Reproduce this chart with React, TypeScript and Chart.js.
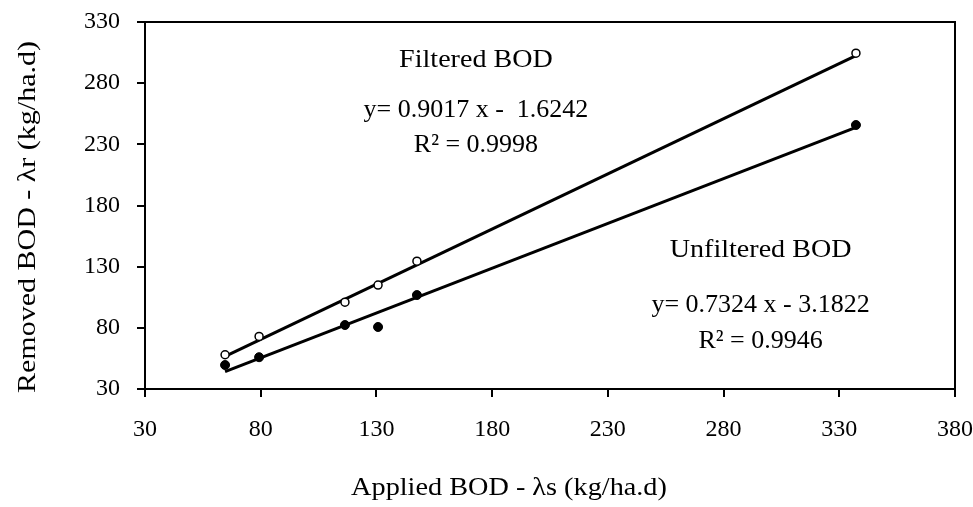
import React, { useEffect, useRef } from "react";
import { Chart, registerables } from "chart.js";

Chart.register(...registerables);

// ---- Data ----
const APPLIED_BOD = [64.6, 79.3, 116.4, 130.7, 147.5, 337.2];
const FILTERED_REMOVED = [58, 73, 101, 115, 134.5, 304.5];
const UNFILTERED_REMOVED = [49.6, 56, 82.3, 80.7, 106.8, 245.8];

const FILTERED_SLOPE = 0.9017;
const FILTERED_INTERCEPT = -1.6242;
const UNFILTERED_SLOPE = 0.7324;
const UNFILTERED_INTERCEPT = -3.1822;

const X_MIN = 30;
const X_MAX = 380;
const Y_MIN = 30;
const Y_MAX = 330;
const TICK_STEP = 50;

const X_TITLE = "Applied BOD - λs (kg/ha.d)";
const Y_TITLE = "Removed BOD - λr (kg/ha.d)";

const FILTERED_LABELS = ["Filtered BOD", "y= 0.9017 x -  1.6242", "R² = 0.9998"];
const UNFILTERED_LABELS = ["Unfiltered BOD", "y= 0.7324 x - 3.1822", "R² = 0.9946"];
// label anchor positions in data units (x centre, baselines)
const FILTERED_LABEL_X = 173;
const FILTERED_LABEL_Y = [293.5, 252.6, 224];
const UNFILTERED_LABEL_X = 296;
const UNFILTERED_LABEL_Y = [137.7, 93.2, 63.3];

const FONT = "'Liberation Serif', 'Times New Roman', serif";

function trend(slope: number, intercept: number) {
  const xs = [Math.min(...APPLIED_BOD), Math.max(...APPLIED_BOD)];
  return xs.map((x) => ({ x, y: slope * x + intercept }));
}

const overlayPlugin = {
  id: "overlay",
  afterDraw(chart: any) {
    const { ctx, chartArea, scales } = chart;
    ctx.save();
    // frame
    ctx.strokeStyle = "#000";
    ctx.lineWidth = 2;
    ctx.strokeRect(chartArea.left, chartArea.top, chartArea.right - chartArea.left, chartArea.bottom - chartArea.top);

    ctx.fillStyle = "#000";
    ctx.textAlign = "center";
    ctx.textBaseline = "alphabetic";
    const drawStretched = (t: string, x: number, y: number, s: number) => {
      ctx.save();
      ctx.translate(x, y);
      ctx.scale(s, 1);
      ctx.fillText(t, 0, 0);
      ctx.restore();
    };
    ctx.font = `26px ${FONT}`;
    FILTERED_LABELS.forEach((t, i) => {
      drawStretched(t, scales.x.getPixelForValue(FILTERED_LABEL_X), scales.y.getPixelForValue(FILTERED_LABEL_Y[i]), i === 0 ? 1.08 : 1);
    });
    UNFILTERED_LABELS.forEach((t, i) => {
      drawStretched(t, scales.x.getPixelForValue(UNFILTERED_LABEL_X), scales.y.getPixelForValue(UNFILTERED_LABEL_Y[i]), i === 0 ? 1.08 : 1);
    });

    // axis titles
    ctx.font = `25px ${FONT}`;
    drawStretched(X_TITLE, 509, 495, 1.13);

    ctx.save();
    ctx.translate(35, 217);
    ctx.rotate(-Math.PI / 2);
    ctx.scale(1.2, 1);
    ctx.fillText(Y_TITLE, 0, 0);
    ctx.restore();

    ctx.restore();
  },
};

export default function App() {
  const ref = useRef<HTMLCanvasElement | null>(null);

  useEffect(() => {
    if (!ref.current) return;
    const chart = new Chart(ref.current, {
      type: "scatter",
      data: {
        datasets: [
          {
            label: "Filtered BOD",
            data: APPLIED_BOD.map((x, i) => ({ x, y: FILTERED_REMOVED[i] })),
            pointStyle: "circle",
            pointRadius: 4,
            pointBackgroundColor: "#fff",
            pointBorderColor: "#000",
            pointBorderWidth: 1.5,
            showLine: false,
          },
          {
            label: "Unfiltered BOD",
            data: APPLIED_BOD.map((x, i) => ({ x, y: UNFILTERED_REMOVED[i] })),
            pointStyle: "circle",
            pointRadius: 4.5,
            pointBackgroundColor: "#000",
            pointBorderColor: "#000",
            pointBorderWidth: 1,
            showLine: false,
          },
          {
            label: "Filtered trend",
            data: trend(FILTERED_SLOPE, FILTERED_INTERCEPT),
            showLine: true,
            borderColor: "#000",
            borderWidth: 3,
            pointRadius: 0,
          },
          {
            label: "Unfiltered trend",
            data: trend(UNFILTERED_SLOPE, UNFILTERED_INTERCEPT),
            showLine: true,
            borderColor: "#000",
            borderWidth: 3,
            pointRadius: 0,
          },
        ],
      },
      options: {
        animation: false,
        responsive: false,
        maintainAspectRatio: false,
        layout: { padding: { top: 22, right: 18, left: 0, bottom: 0 } },
        plugins: { legend: { display: false }, tooltip: { enabled: false } },
        scales: {
          x: {
            type: "linear",
            min: X_MIN,
            max: X_MAX,
            ticks: { stepSize: TICK_STEP, color: "#000", font: { family: FONT, size: 24 }, padding: 18, maxRotation: 0 },
            grid: { drawOnChartArea: false, tickLength: 8, color: "#000", lineWidth: 2 },
            border: { color: "#000", width: 2 },
            afterFit: (s: any) => {
              s.height = 118;
              s.paddingLeft = 0;
              s.paddingRight = 0;
            },
          },
          y: {
            type: "linear",
            min: Y_MIN,
            max: Y_MAX,
            ticks: { stepSize: TICK_STEP, color: "#000", font: { family: FONT, size: 24 }, padding: 17 },
            grid: { drawOnChartArea: false, tickLength: 8, color: "#000", lineWidth: 2 },
            border: { color: "#000", width: 2 },
            afterFit: (s: any) => {
              s.width = 145;
              s.paddingTop = 0;
              s.paddingBottom = 0;
            },
          },
        },
      },
      plugins: [overlayPlugin],
    });
    return () => chart.destroy();
  }, []);

  return (
    <div style={{ position: "absolute", left: 0, top: 0, width: 973, height: 507, background: "#fff" }}>
      <canvas ref={ref} width={973} height={507} style={{ width: 973, height: 507 }} />
    </div>
  );
}
